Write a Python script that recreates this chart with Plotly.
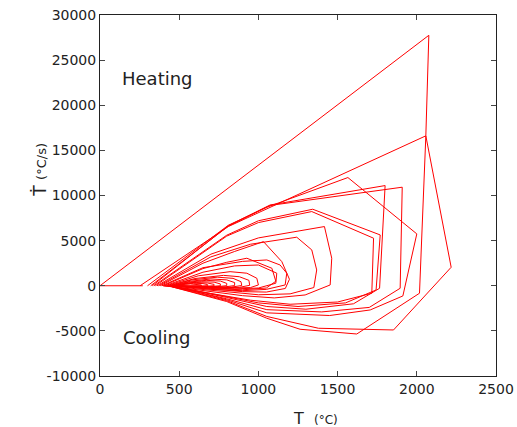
import plotly.graph_objects as go

# Each cycle: temperature T (°C) and heating rate Tdot (°C/s)
T1 = [270, 0, 2076, 2057, 2017, 1621, 1263, 1053, 800, 600, 450, 400]
R1 = [0, 0, 27750, 16610, -830, -5345, -4820, -3600, -1750, -800, -100, 0]

T2 = [253, 810, 2057, 2217, 1853, 1379, 1053, 800, 600, 450, 400]
R2 = [0, 6560, 16610, 2050, -4900, -4710, -3400, -1650, -750, -100, 0]

T3 = [300, 810, 1053, 1565, 2000, 1912, 1706, 1450, 1053, 800, 600, 430]
R3 = [0, 6700, 8700, 11990, 5745, -1130, -2680, -3300, -3000, -1550, -650, 0]

T4 = [320, 810, 1074, 1908, 1895, 1700, 1400, 1053, 800, 600, 440]
R4 = [0, 6600, 8900, 10920, -280, -2400, -2900, -2650, -1450, -600, 0]

T5 = [330, 810, 1074, 1800, 1765, 1600, 1300, 1053, 800, 600, 450]
R5 = [0, 6650, 8950, 11100, -280, -2000, -2600, -2300, -1300, -550, 0]

T6 = [340, 800, 1000, 1343, 1769, 1743, 1550, 1250, 1000, 750, 550, 450]
R6 = [0, 5600, 7200, 8480, 5630, -470, -1900, -2300, -1900, -1050, -420, 0]

T7 = [350, 800, 1000, 1337, 1727, 1716, 1500, 1200, 950, 700, 520, 450]
R7 = [0, 5500, 7000, 8220, 5270, -830, -1800, -2050, -1600, -850, -330, 0]

T8 = [360, 700, 1000, 1417, 1463, 1453, 1295, 1100, 900, 700, 520, 460]
R8 = [0, 3500, 5300, 6560, 3050, 90, -1020, -1350, -1100, -650, -230, 0]

T9 = [370, 700, 950, 1242, 1337, 1368, 1350, 1200, 1000, 800, 600, 470]
R9 = [0, 3200, 4600, 5380, 3970, 1750, -200, -900, -1000, -700, -330, 0]

T10 = [380, 650, 850, 1032, 1148, 1196, 1170, 1050, 900, 700, 520, 470]
R10 = [0, 2500, 3800, 4890, 2670, 720, -300, -700, -650, -400, -100, 0]

T11 = [390, 650, 900, 1053, 1137, 1179, 1169, 1050, 900, 700, 520, 470]
R11 = [0, 2000, 2700, 2860, 2300, 1390, 90, -400, -550, -400, -100, 0]

T12 = [400, 650, 800, 927, 1085, 1110, 1050, 900, 700, 520, 475]
R12 = [0, 1900, 2600, 3050, 1940, 500, -250, -450, -300, -80, 0]

T13 = [410, 650, 850, 1000, 1116, 1110, 1000, 850, 650, 500]
R13 = [0, 1500, 2200, 2300, 1390, 280, -250, -350, -200, 0]

T14 = [420, 620, 821, 927, 990, 1000, 950, 800, 600, 480]
R14 = [0, 1100, 1560, 1390, 830, 90, -200, -280, -150, 0]

T15 = [430, 600, 780, 880, 940, 945, 880, 750, 580, 480]
R15 = [0, 800, 1150, 1000, 600, 50, -180, -220, -120, 0]

T16 = [440, 580, 740, 840, 890, 895, 830, 700, 560, 480]
R16 = [0, 650, 950, 820, 450, 30, -150, -180, -100, 0]

T17 = [450, 570, 700, 800, 850, 850, 790, 660, 540, 480]
R17 = [0, 500, 750, 650, 350, 20, -120, -150, -80, 0]

T18 = [460, 560, 670, 760, 800, 800, 740, 630, 530, 480]
R18 = [0, 400, 600, 520, 260, 10, -100, -120, -60, 0]

T19 = [470, 550, 640, 720, 760, 760, 700, 600, 520, 480]
R19 = [0, 300, 450, 400, 200, 0, -80, -100, -50, 0]

T20 = [480, 540, 610, 680, 720, 720, 660, 580, 520, 490]
R20 = [0, 250, 350, 300, 150, 0, -60, -80, -40, 0]

T21 = [490, 540, 590, 650, 680, 680, 630, 570, 520, 495]
R21 = [0, 200, 280, 240, 120, 0, -50, -60, -30, 0]

T22 = [495, 530, 570, 620, 640, 640, 600, 560, 520, 500]
R22 = [0, 150, 200, 170, 90, 0, -40, -45, -20, 0]

cycles_T = [T1, T2, T3, T4, T5, T6, T7, T8, T9, T10, T11,
            T12, T13, T14, T15, T16, T17, T18, T19, T20, T21, T22]
cycles_R = [R1, R2, R3, R4, R5, R6, R7, R8, R9, R10, R11,
            R12, R13, R14, R15, R16, R17, R18, R19, R20, R21, R22]

x_ticks = [0, 500, 1000, 1500, 2000, 2500]
y_ticks = [-10000, -5000, 0, 5000, 10000, 15000, 20000, 25000, 30000]

xs, ys = [], []
for t, r in zip(cycles_T, cycles_R):
    xs += t + [None]
    ys += r + [None]

fig = go.Figure()
fig.add_trace(go.Scatter(x=xs, y=ys, mode="lines",
                         line=dict(color="#ff0000", width=1),
                         connectgaps=False, showlegend=False,
                         hoverinfo="skip"))

font = "DejaVu Sans, sans-serif"
fig.add_annotation(x=360, y=23000, text="Heating", showarrow=False,
                   font=dict(family=font, size=18, color="#222"))
fig.add_annotation(x=355, y=-5700, text="Cooling", showarrow=False,
                   font=dict(family=font, size=18, color="#222"))

# axis titles as paper annotations
fig.add_annotation(xref="paper", yref="paper", x=0.543, y=-0.118,
                   text="T  <span style='font-size:12px'>(°C)</span>",
                   showarrow=False, xanchor="center", yanchor="middle",
                   font=dict(family=font, size=16, color="#222"))
fig.add_annotation(xref="paper", yref="paper", x=-0.152, y=0.571,
                   text="Ṫ <span style='font-size:13px'>(°C/s)</span>",
                   textangle=-90, showarrow=False, xanchor="center", yanchor="middle",
                   font=dict(family=font, size=17, color="#222"))

axis_common = dict(showline=True, linecolor="#222", linewidth=1, mirror="allticks",
                   ticks="inside", ticklen=5, tickcolor="#444", showgrid=False,
                   zeroline=False, automargin=False,
                   tickfont=dict(family=font, size=14, color="#222"))

fig.update_xaxes(range=[0, 2500], tickvals=x_ticks, ticktext=[str(v) for v in x_ticks],
                 **axis_common)
fig.update_yaxes(range=[-10000, 30000], tickvals=y_ticks, ticktext=[str(v) for v in y_ticks],
                 **axis_common)

fig.update_layout(width=517, height=427, margin=dict(l=100, r=21, t=15, b=51),
                  plot_bgcolor="white", paper_bgcolor="white")

# remove the page's default body margin so the figure sits at the window origin
fig.write_html("out.html", config={"displayModeBar": False},
               post_script="document.body.style.margin='0';document.body.style.overflow='hidden';")
